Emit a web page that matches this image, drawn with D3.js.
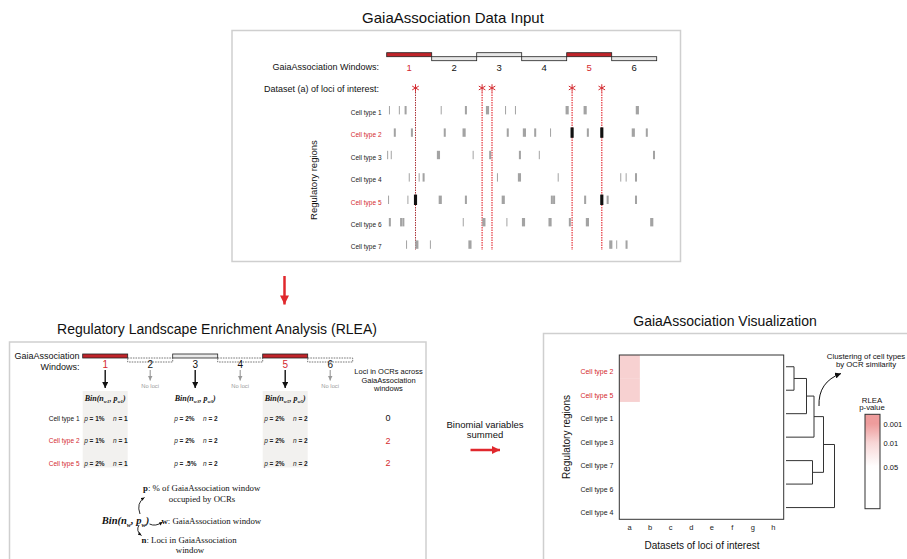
<!DOCTYPE html>
<html>
<head>
<meta charset="utf-8">
<script src="https://cdn.jsdelivr.net/npm/d3@7"></script>
<style>
body { margin: 0; background: #fff; }
svg { display: block; font-family: "Liberation Sans", Arial, sans-serif; }
</style>
</head>
<body>
<div id="chart"></div>
<script>
// ---- data ----
const windowIds = [1, 2, 3, 4, 5, 6];
const sigWindows = [1, 5];
const lociWindows = [1, 3, 5];          // windows that contain loci of dataset (a)
const lociA = [64, 212, 234, 412, 478]; // positions along the 6 windows (100 per window)

const cellTypes = ["Cell type 1", "Cell type 2", "Cell type 3", "Cell type 4", "Cell type 5", "Cell type 6", "Cell type 7"];
const sigTypes = ["Cell type 2", "Cell type 5"];

// OCRs: [centre, length, overlaps locus]
const ocrType1 = [[6, 2], [28, 2], [42, 4.5], [121, 2], [176, 4.5], [224, 7], [264, 2], [286, 2], [401, 7], [441, 7], [557, 7]];
const ocrType2 = [[18, 4.5], [56, 4.5], [129, 4.5], [172, 7], [269, 4.5], [306, 7], [330, 4.5], [364, 2], [412, 7, 1], [447, 4.5], [478, 7, 1], [548, 7], [578, 4.5]];
const ocrType3 = [[2, 2], [10, 2], [115, 7], [192, 2], [230, 4.5], [296, 4.5], [339, 2], [594, 4.5]];
const ocrType4 = [[50, 2], [72, 2], [82, 4.5], [246, 2], [295, 7], [381, 2], [520, 2], [532, 2], [554, 4.5]];
const ocrType5 = [[4, 2], [47, 2], [64, 7, 1], [119, 7], [176, 4.5], [259, 7], [367, 4.5], [372, 4.5], [441, 4.5], [478, 7, 1], [491, 4.5], [554, 4.5]];
const ocrType6 = [[7, 4.5], [32, 4.5], [37, 4.5], [170, 2], [216, 7], [267, 2], [304, 7], [363, 7], [407, 4.5], [446, 7], [589, 7]];
const ocrType7 = [[44, 2], [67, 7], [97, 2], [185, 7], [498, 7], [511, 2], [533, 4.5]];
const ocrByType = [ocrType1, ocrType2, ocrType3, ocrType4, ocrType5, ocrType6, ocrType7];

// RLEA table
const rleaTypes = ["Cell type 1", "Cell type 2", "Cell type 5"];
const pWin1 = ["1%", "1%", "2%"];
const nWin1 = [1, 1, 1];
const pWin3 = ["2%", "2%", ".5%"];
const nWin3 = [2, 2, 2];
const pWin5 = ["2%", "2%", "2%"];
const nWin5 = [2, 2, 2];
const lociInOcrs = [0, 2, 2];

// heatmap
const heatRows = ["Cell type 2", "Cell type 5", "Cell type 1", "Cell type 3", "Cell type 7", "Cell type 6", "Cell type 4"];
const heatCols = ["a", "b", "c", "d", "e", "f", "g", "h"];
const heatP = [
  [0.008, 1, 1, 1, 1, 1, 1, 1],
  [0.008, 1, 1, 1, 1, 1, 1, 1],
  [1, 1, 1, 1, 1, 1, 1, 1],
  [1, 1, 1, 1, 1, 1, 1, 1],
  [1, 1, 1, 1, 1, 1, 1, 1],
  [1, 1, 1, 1, 1, 1, 1, 1],
  [1, 1, 1, 1, 1, 1, 1, 1]
];
const legendTicks = [0.001, 0.01, 0.05];
// dendrogram (merge heights)
const dendro = {h: 0.97, children: [
  {h: 0.75, children: [
    {h: 0.56, children: [
      {h: 0.41, children: [
        {h: 0.16, children: [{name: "Cell type 2"}, {name: "Cell type 5"}]},
        {name: "Cell type 1"}]},
      {name: "Cell type 3"}]},
    {h: 0.53, children: [{name: "Cell type 7"}, {name: "Cell type 6"}]}]},
  {name: "Cell type 4"}]};

const RED = "#d42a2f";
const DARKRED = "#c0242a";

// ---- svg ----
const width = 907, height = 559;
const svg = d3.select("#chart").append("svg")
  .attr("width", width).attr("height", height)
  .attr("viewBox", `0 0 ${width} ${height}`);

const defs = svg.append("defs");
function marker(id, color, len, wid) {
  defs.append("marker").attr("id", id)
    .attr("viewBox", "0 0 10 10").attr("refX", 10).attr("refY", 5)
    .attr("markerUnits", "userSpaceOnUse")
    .attr("markerWidth", len).attr("markerHeight", wid)
    .attr("orient", "auto")
    .append("path").attr("d", "M0,0L10,5L0,10Z").attr("fill", color);
}
marker("arBlack", "#111", 6, 6);
marker("arGray", "#999", 5, 5);
marker("arRedBig", "#e0282d", 19, 9);
marker("arRedSide", "#e0282d", 17, 8);
marker("arSmall", "#111", 4, 3.5);

function title(txt, x, y, size) {
  svg.append("text").attr("x", x).attr("y", y).attr("dy", "0.35em")
    .attr("text-anchor", "middle").attr("font-size", size).attr("fill", "#111").text(txt);
}

// ---- panel frames ----
const frames = [[232, 30.5, 448.5, 231], [9.5, 342, 416.5, 300], [543.5, 333.5, 400, 300]];
svg.selectAll("rect.frame").data(frames).join("rect").attr("class", "frame")
  .attr("x", d => d[0]).attr("y", d => d[1]).attr("width", d => d[2]).attr("height", d => d[3])
  .attr("fill", "none").attr("stroke", "#cfcfcf").attr("stroke-width", 1.5);

title("GaiaAssociation Data Input", 453, 18, 15);
title("Regulatory Landscape Enrichment Analysis (RLEA)", 217, 329, 14);
title("GaiaAssociation Visualization", 725, 321, 14);

// ================= TOP PANEL =================
const xTop = d3.scaleLinear().domain([0, 600]).range([386.7, 656.7]);
const yRow = d3.scalePoint().domain(cellTypes).range([110.2, 244.6]);
const gTop = svg.append("g");

gTop.append("text").attr("x", 379).attr("y", 66.5).attr("dy", "0.35em").attr("text-anchor", "end")
  .attr("font-size", 9).attr("fill", "#111").text("GaiaAssociation Windows:");
gTop.append("text").attr("x", 379).attr("y", 88.5).attr("dy", "0.35em").attr("text-anchor", "end")
  .attr("font-size", 9).attr("fill", "#111").text("Dataset (a) of loci of interest:");

gTop.selectAll("rect.win").data(windowIds).join("rect").attr("class", "win")
  .attr("x", d => xTop((d - 1) * 100)).attr("width", xTop(100) - xTop(0))
  .attr("y", d => d % 2 ? 52.7 : 56.7).attr("height", 4)
  .attr("fill", d => sigWindows.includes(d) ? DARKRED : "#e8e8e8")
  .attr("stroke", "#222").attr("stroke-width", 0.8);
gTop.selectAll("text.winl").data(windowIds).join("text").attr("class", "winl")
  .attr("x", d => xTop((d - 0.5) * 100)).attr("y", 67.5).attr("dy", "0.35em")
  .attr("text-anchor", "middle").attr("font-size", 9.5)
  .attr("fill", d => sigWindows.includes(d) ? RED : "#111").text(d => d);

// loci lines + stars
gTop.selectAll("line.locus").data(lociA).join("line").attr("class", "locus")
  .attr("x1", d => xTop(d)).attr("x2", d => xTop(d)).attr("y1", 92).attr("y2", 250)
  .attr("stroke", (d, i) => i === 0 ? "#a01c22" : "#e4343b")
  .attr("stroke-width", (d, i) => i === 0 ? 0.9 : 1.2)
  .attr("stroke-dasharray", "1.5,1");
gTop.selectAll("path.star").data(lociA).join("path").attr("class", "star")
  .attr("transform", d => `translate(${xTop(d)},88)`)
  .attr("d", d3.symbol(d3.symbolAsterisk, 40))
  .attr("fill", "none").attr("stroke", RED).attr("stroke-width", 1);

// rows
gTop.selectAll("text.ct").data(cellTypes).join("text").attr("class", "ct")
  .attr("x", 381.5).attr("y", d => yRow(d) + 2.5).attr("dy", "0.35em")
  .attr("text-anchor", "end").attr("font-size", 6.5)
  .attr("fill", d => sigTypes.includes(d) ? RED : "#222").text(d => d);

gTop.append("text").attr("transform", "translate(314,180) rotate(-90)")
  .attr("dy", "0.35em").attr("text-anchor", "middle").attr("font-size", 9.5)
  .attr("fill", "#111").text("Regulatory regions");

cellTypes.forEach((ct, i) => {
  gTop.selectAll(null).data(ocrByType[i]).join("rect")
    .attr("x", d => xTop(d[0] - d[1] / 2))
    .attr("width", d => Math.max(1, xTop(d[1]) - xTop(0)))
    .attr("y", d => yRow(ct) - (d[2] ? 5.2 : 4.2))
    .attr("height", d => d[2] ? 10.4 : 8.4)
    .attr("fill", d => d[2] ? "#111" : "#a3a3a3");
});

// red arrow down
svg.append("line").attr("x1", 284.5).attr("x2", 284.5).attr("y1", 276).attr("y2", 304.5)
  .attr("stroke", "#e0282d").attr("stroke-width", 2.5).attr("marker-end", "url(#arRedBig)");

// ================= RLEA PANEL =================
const xBot = d3.scaleLinear().domain([0, 600]).range([82.7, 352.7]);
const yTab = d3.scalePoint().domain(rleaTypes).range([418.7, 463.7]);
const rl = svg.append("g");

rl.append("text").attr("x", 79.5).attr("y", 356).attr("dy", "0.35em").attr("text-anchor", "end")
  .attr("font-size", 9).attr("fill", "#111").text("GaiaAssociation");
rl.append("text").attr("x", 79.5).attr("y", 366.7).attr("dy", "0.35em").attr("text-anchor", "end")
  .attr("font-size", 9).attr("fill", "#111").text("Windows:");

// shaded columns for significant windows
rl.selectAll("rect.shade").data(sigWindows).join("rect").attr("class", "shade")
  .attr("x", d => xBot((d - 1) * 100)).attr("width", xBot(100) - xBot(0))
  .attr("y", 391).attr("height", 76.5).attr("fill", "#f2f1ef");

rl.selectAll("rect.bwin").data(windowIds).join("rect").attr("class", "bwin")
  .attr("x", d => xBot((d - 1) * 100)).attr("width", xBot(100) - xBot(0))
  .attr("y", d => lociWindows.includes(d) ? 354 : 358).attr("height", 4)
  .attr("fill", d => sigWindows.includes(d) ? DARKRED : (lociWindows.includes(d) ? "#e8e8e8" : "none"))
  .attr("stroke", d => lociWindows.includes(d) ? "#222" : "#555")
  .attr("stroke-width", 0.8)
  .attr("stroke-dasharray", d => lociWindows.includes(d) ? null : "1.6,1");

rl.selectAll("text.bwl").data(windowIds).join("text").attr("class", "bwl")
  .attr("x", d => xBot((d - 0.5) * 100)).attr("y", 364.5).attr("dy", "0.35em")
  .attr("text-anchor", "middle").attr("font-size", 10)
  .attr("fill", d => sigWindows.includes(d) ? RED : "#111").text(d => d);

rl.selectAll("line.warr").data(windowIds).join("line").attr("class", "warr")
  .attr("x1", d => xBot((d - 0.5) * 100)).attr("x2", d => xBot((d - 0.5) * 100))
  .attr("y1", 370).attr("y2", d => lociWindows.includes(d) ? 388 : 380.5)
  .attr("stroke", d => lociWindows.includes(d) ? "#111" : "#999")
  .attr("stroke-width", d => lociWindows.includes(d) ? 1.4 : 1.1)
  .attr("marker-end", d => lociWindows.includes(d) ? "url(#arBlack)" : "url(#arGray)");
rl.selectAll("text.noloci").data(windowIds.filter(d => !lociWindows.includes(d))).join("text")
  .attr("x", d => xBot((d - 0.5) * 100)).attr("y", 386).attr("dy", "0.35em")
  .attr("text-anchor", "middle").attr("font-size", 5.8).attr("fill", "#9a9a9a").text("No loci");

function binLabel(g, x, y, size, sub) {
  const t = g.append("text").attr("x", x).attr("y", y).attr("dy", "0.35em")
    .attr("text-anchor", "middle").attr("font-family", "'Liberation Serif', 'Times New Roman', serif")
    .attr("font-style", "italic").attr("font-weight", "bold").attr("font-size", size).attr("fill", "#111");
  t.append("tspan").text("Bin(n");
  t.append("tspan").attr("font-size", size * 0.6).attr("dy", size * 0.25).text(sub);
  t.append("tspan").attr("dy", -size * 0.25).text(", p");
  t.append("tspan").attr("font-size", size * 0.6).attr("dy", size * 0.25).text(sub);
  t.append("tspan").attr("dy", -size * 0.25).text(")");
  return t;
}
lociWindows.forEach(w => binLabel(rl, xBot((w - 0.5) * 100), 398.5, 8, "w" + w));

rl.selectAll("text.tabct").data(rleaTypes).join("text").attr("class", "tabct")
  .attr("x", 79.5).attr("y", d => yTab(d)).attr("dy", "0.35em").attr("text-anchor", "end")
  .attr("font-size", 6.5).attr("fill", d => sigTypes.includes(d) ? RED : "#111").text(d => d);

const tabCols = [[1, pWin1, nWin1], [3, pWin3, nWin3], [5, pWin5, nWin5]];
tabCols.forEach(([w, ps, ns]) => {
  const x0 = xBot((w - 1) * 100), x1 = xBot(w * 100);
  rleaTypes.forEach((ct, i) => {
    const tp = rl.append("text").attr("x", x0 + 1.5).attr("y", yTab(ct)).attr("dy", "0.35em")
      .attr("font-size", 6.5).attr("font-weight", "bold").attr("fill", "#222");
    tp.append("tspan").attr("font-style", "italic").attr("font-weight", "normal").text("p");
    tp.append("tspan").text(" = " + ps[i]);
    const tn = rl.append("text").attr("x", x1).attr("y", yTab(ct)).attr("dy", "0.35em")
      .attr("text-anchor", "end").attr("font-size", 6.5).attr("font-weight", "bold").attr("fill", "#222");
    tn.append("tspan").attr("font-style", "italic").attr("font-weight", "normal").text("n");
    tn.append("tspan").text(" = " + ns[i]);
  });
});

["Loci in OCRs across", "GaiaAssociation", "windows"].forEach((s, i) => {
  rl.append("text").attr("x", 388.5).attr("y", 371.7 + i * 8.5).attr("dy", "0.35em")
    .attr("text-anchor", "middle").attr("font-size", 7.5).attr("fill", "#111").text(s);
});
rl.selectAll("text.cnt").data(lociInOcrs).join("text").attr("class", "cnt")
  .attr("x", 388).attr("y", (d, i) => yTab(rleaTypes[i]) - 0.5).attr("dy", "0.35em")
  .attr("text-anchor", "middle").attr("font-size", 9)
  .attr("fill", (d, i) => sigTypes.includes(rleaTypes[i]) ? RED : "#111").text(d => d);

// formula legend
const serif = "'Liberation Serif', 'Times New Roman', serif";
function serifLine(x, y, bold, rest, anchor) {
  const t = rl.append("text").attr("x", x).attr("y", y).attr("dy", "0.35em")
    .attr("text-anchor", anchor || "start").attr("font-family", serif)
    .attr("font-size", 8.8).attr("fill", "#111");
  if (bold) t.append("tspan").attr("font-weight", "bold").text(bold);
  t.append("tspan").text(rest);
}
serifLine(143, 488.3, "p", ": % of GaiaAssociation window");
serifLine(202, 498.5, null, "occupied by OCRs", "middle");
serifLine(161.5, 521, "w", ": GaiaAssociation window");
serifLine(141.5, 540, "n", ": Loci in GaiaAssociation");
serifLine(190, 550, null, "window", "middle");
binLabel(rl, 125.5, 520.5, 10.5, "w");

const curves = ["M140,514 Q136,503 144.5,497.5", "M149.5,524 Q155.5,527 162.5,522", "M139,525 Q135.5,531 141.5,535.5"];
rl.selectAll("path.curv").data(curves).join("path").attr("class", "curv")
  .attr("d", d => d).attr("fill", "none").attr("stroke", "#111").attr("stroke-width", 0.9)
  .attr("marker-end", "url(#arSmall)");

// binomial summed arrow
["Binomial variables", "summed"].forEach((s, i) => {
  svg.append("text").attr("x", 485).attr("y", 424.3 + i * 10).attr("dy", "0.35em")
    .attr("text-anchor", "middle").attr("font-size", 9.5).attr("fill", "#111").text(s);
});
svg.append("line").attr("x1", 470.5).attr("x2", 500).attr("y1", 450).attr("y2", 450)
  .attr("stroke", "#e0282d").attr("stroke-width", 2.5).attr("marker-end", "url(#arRedSide)");

// ================= VISUALIZATION PANEL =================
const viz = svg.append("g");
const xH = d3.scaleBand().domain(heatCols).range([619.3, 783.7]);
const yH = d3.scaleBand().domain(heatRows).range([355, 519.3]);
const pColor = d3.scaleLinear().domain([-3, -1.3]).range(["#ee9c9c", "#ffffff"]).clamp(true);
const colorOf = p => pColor(Math.log10(p));

const cells = [];
heatRows.forEach((r, i) => heatCols.forEach((c, j) => cells.push({r, c, p: heatP[i][j]})));
viz.selectAll("rect.cell").data(cells).join("rect").attr("class", "cell")
  .attr("x", d => xH(d.c)).attr("y", d => yH(d.r))
  .attr("width", xH.bandwidth() + 0.3).attr("height", yH.bandwidth() + 0.3)
  .attr("fill", d => colorOf(d.p));
viz.append("rect").attr("x", 619.3).attr("y", 355).attr("width", 164.4).attr("height", 164.3)
  .attr("fill", "none").attr("stroke", "#333").attr("stroke-width", 1);

viz.selectAll("text.hr").data(heatRows).join("text").attr("class", "hr")
  .attr("x", 613.5).attr("y", d => yH(d) + yH.bandwidth() / 2 + 5).attr("dy", "0.35em")
  .attr("text-anchor", "end").attr("font-size", 7)
  .attr("fill", d => sigTypes.includes(d) ? RED : "#222").text(d => d);
viz.selectAll("text.hc").data(heatCols).join("text").attr("class", "hc")
  .attr("x", d => xH(d) + xH.bandwidth() / 2).attr("y", 527.7).attr("dy", "0.35em")
  .attr("text-anchor", "middle").attr("font-size", 7.5).attr("fill", "#222").text(d => d);
viz.append("text").attr("x", 702).attr("y", 545).attr("dy", "0.35em").attr("text-anchor", "middle")
  .attr("font-size", 10).attr("fill", "#111").text("Datasets of loci of interest");
viz.append("text").attr("transform", "translate(566,437) rotate(-90)")
  .attr("dy", "0.35em").attr("text-anchor", "middle").attr("font-size", 10)
  .attr("fill", "#111").text("Regulatory regions");

// dendrogram
const xD = d3.scaleLinear().domain([0, 1]).range([786, 836]);
const root = d3.hierarchy(dendro);
root.eachAfter(n => {
  if (!n.children) { n.yy = yH(n.data.name) + yH.bandwidth() / 2; n.hh = 0; }
  else { n.yy = d3.mean(n.children, c => c.yy); n.hh = n.data.h; }
});
const segs = [];
root.each(n => {
  if (!n.children) return;
  segs.push([xD(n.hh), n.children[0].yy, xD(n.hh), n.children[1].yy]);
  n.children.forEach(c => segs.push([xD(c.hh), c.yy, xD(n.hh), c.yy]));
});
viz.selectAll("line.dg").data(segs).join("line").attr("class", "dg")
  .attr("x1", d => d[0]).attr("y1", d => d[1]).attr("x2", d => d[2]).attr("y2", d => d[3])
  .attr("stroke", "#333").attr("stroke-width", 1);

["Clustering of cell types", "by OCR similarity"].forEach((s, i) => {
  viz.append("text").attr("x", 866).attr("y", 356.7 + i * 7.5).attr("dy", "0.35em")
    .attr("text-anchor", "middle").attr("font-size", 7.8).attr("fill", "#111").text(s);
});
viz.append("path").attr("d", "M819,406 Q818,382 841,373.5").attr("fill", "none")
  .attr("stroke", "#111").attr("stroke-width", 1).attr("marker-end", "url(#arBlack)");

// legend
const lgY = d3.scaleLog().domain(legendTicks).range([424, 443, 467]);
const lgTop = 414.3, lgBot = 508.7;
const grad = defs.append("linearGradient").attr("id", "lg").attr("x1", 0).attr("x2", 0).attr("y1", 0).attr("y2", 1);
const samples = d3.range(0, 1.0001, 0.05).map(t => lgTop + t * (lgBot - lgTop));
grad.selectAll("stop").data(samples).join("stop")
  .attr("offset", y => (y - lgTop) / (lgBot - lgTop))
  .attr("stop-color", y => colorOf(lgY.invert(Math.max(y, 424))));
viz.append("text").attr("x", 872).attr("y", 400).attr("dy", "0.35em").attr("text-anchor", "middle")
  .attr("font-size", 7.8).attr("fill", "#111").text("RLEA");
viz.append("text").attr("x", 872).attr("y", 407.7).attr("dy", "0.35em").attr("text-anchor", "middle")
  .attr("font-size", 7.8).attr("fill", "#111").text("p-value");
viz.append("rect").attr("x", 865).attr("y", lgTop).attr("width", 15).attr("height", lgBot - lgTop)
  .attr("fill", "url(#lg)").attr("stroke", "#333").attr("stroke-width", 1);
viz.selectAll("text.lt").data(legendTicks).join("text").attr("class", "lt")
  .attr("x", 883.5).attr("y", d => lgY(d)).attr("dy", "0.35em")
  .attr("font-size", 7.5).attr("fill", "#111").text(d => d);
</script>
</body>
</html>
